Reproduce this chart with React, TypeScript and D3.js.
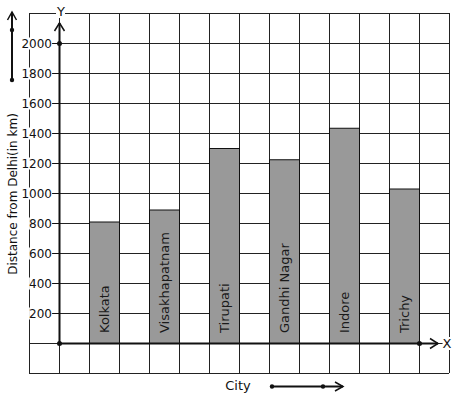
import React, { useEffect, useRef } from 'react';
import * as d3 from 'd3';

const cities = ['Kolkata', 'Visakhapatnam', 'Tirupati', 'Gandhi Nagar', 'Indore', 'Trichy'];
const distances = [810, 890, 1300, 1225, 1435, 1030];
const yTicks = [200, 400, 600, 800, 1000, 1200, 1400, 1600, 1800, 2000];
const barColumns = [2, 4, 6, 8, 10, 12];

const W = 457;
const H = 399;

const App: React.FC = () => {
  const svgRef = useRef<SVGSVGElement | null>(null);

  useEffect(() => {
    document.body.style.margin = '0';
    if (!svgRef.current) return;
    const svg = d3.select(svgRef.current);
    svg.selectAll('*').remove();

    const font = '"DejaVu Sans", sans-serif';
    const ink = '#111';

    // grid coordinates: 14 columns x 12 rows, 30px each
    const x = d3.scaleLinear().domain([0, 14]).range([29, 449]);
    const y = d3.scaleLinear().domain([0, 2000]).range([343, 43]);
    const x0 = x(1);
    const y0 = y(0);

    const grid = svg.append('g').attr('stroke', '#222').attr('stroke-width', 1);
    d3.range(0, 15).forEach(i => {
      grid.append('line')
        .attr('x1', x(i) + 0.5).attr('x2', x(i) + 0.5)
        .attr('y1', y(2200)).attr('y2', y(-200));
    });
    d3.range(-200, 2201, 200).forEach(v => {
      grid.append('line')
        .attr('x1', x(0)).attr('x2', x(14))
        .attr('y1', y(v) + 0.5).attr('y2', y(v) + 0.5);
    });

    // bars
    svg.selectAll('rect.bar')
      .data(distances)
      .enter()
      .append('rect')
      .attr('class', 'bar')
      .attr('x', (_, i) => x(barColumns[i]) + 0.5)
      .attr('y', d => y(d) + 0.5)
      .attr('width', 30)
      .attr('height', d => y0 - y(d))
      .attr('fill', '#999')
      .attr('stroke', ink)
      .attr('stroke-width', 1);

    // bar labels
    svg.selectAll('text.bar-label')
      .data(cities)
      .enter()
      .append('text')
      .attr('class', 'bar-label')
      .attr('transform', (_, i) => `translate(${x(barColumns[i]) + 15 + 5},${y0 - 10}) rotate(-90)`)
      .attr('font-family', font)
      .attr('font-size', 13)
      .attr('fill', '#1a1a1a')
      .text(d => d);

    // white-backed label helper
    const label = (txt: string, tx: number, ty: number, anchor: string, size = 12) => {
      const g = svg.append('g');
      const bg = g.append('rect').attr('fill', '#fff');
      const t = g.append('text')
        .attr('x', tx).attr('y', ty)
        .attr('text-anchor', anchor)
        .attr('font-family', font)
        .attr('font-size', size)
        .attr('fill', ink)
        .text(txt);
      const b = (t.node() as SVGTextElement).getBBox();
      bg.attr('x', b.x).attr('y', b.y + 1).attr('width', b.width).attr('height', b.height - 2);
    };

    // y ticks
    yTicks.forEach(v => {
      svg.append('line')
        .attr('x1', x0 - 6).attr('x2', x0)
        .attr('y1', y(v) + 0.5).attr('y2', y(v) + 0.5)
        .attr('stroke', ink).attr('stroke-width', 1);
      label(String(v), x0 - 7, y(v) + 4.5, 'end');
    });

    // axes
    const axes = svg.append('g').attr('stroke', ink).attr('stroke-width', 2).attr('fill', 'none');
    axes.append('line').attr('x1', x0 + 0.5).attr('x2', x0 + 0.5).attr('y1', y0).attr('y2', 23);
    axes.append('path').attr('d', `M${x0 - 4.5},${31} L${x0 + 0.5},${23} L${x0 + 5.5},${31}`).attr('stroke-width', 1.5);
    axes.append('line').attr('x1', x0).attr('x2', 438).attr('y1', y0 + 0.5).attr('y2', y0 + 0.5);
    axes.append('path').attr('d', `M${430},${y0 - 4.5} L${438},${y0 + 0.5} L${430},${y0 + 5.5}`).attr('stroke-width', 1.5);

    const dots: [number, number][] = [[x0 + 0.5, y0 + 0.5], [x0 + 0.5, y(2000) + 0.5], [x(13) + 0.5, y0 + 0.5]];
    dots.forEach(([cx, cy]) => svg.append('circle').attr('cx', cx).attr('cy', cy).attr('r', 2.5).attr('fill', ink));

    label('Y', x0 + 2, 16, 'middle', 13);
    label('X', 447, y0 + 5, 'middle', 13);

    // axis title
    svg.append('text')
      .attr('transform', `translate(17,${194}) rotate(-90)`)
      .attr('text-anchor', 'middle')
      .attr('font-family', font)
      .attr('font-size', 12)
      .attr('fill', ink)
      .text('Distance from Delhi(in km)');

    svg.append('text')
      .attr('x', 238).attr('y', 390)
      .attr('text-anchor', 'middle')
      .attr('font-family', font)
      .attr('font-size', 13)
      .attr('fill', ink)
      .text('City');

    // direction arrows
    const dir = svg.append('g').attr('stroke', ink).attr('fill', 'none');
    dir.append('line').attr('x1', 12).attr('x2', 12).attr('y1', 80).attr('y2', 12).attr('stroke-width', 2);
    dir.append('path').attr('d', 'M7.5,20 L12,12 L16.5,20').attr('stroke-width', 1.5);
    dir.append('line').attr('x1', 272).attr('x2', 343).attr('y1', 386.5).attr('y2', 386.5).attr('stroke-width', 2);
    dir.append('path').attr('d', 'M335,382 L343,386.5 L335,391').attr('stroke-width', 1.5);
    [[12, 30], [12, 80], [272, 386.5], [323, 386.5]].forEach(([cx, cy]) =>
      svg.append('circle').attr('cx', cx).attr('cy', cy).attr('r', 2.2).attr('fill', ink));
  }, []);

  return <svg ref={svgRef} width={W} height={H} style={{ display: 'block', background: '#fff' }} />;
};

export default App;
